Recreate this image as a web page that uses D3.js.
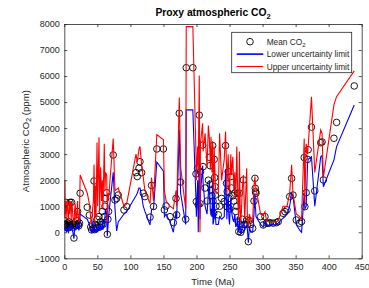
<!DOCTYPE html>
<html>
<head>
<meta charset="utf-8">
<script src="https://cdn.jsdelivr.net/npm/d3@7"></script>
<style>
  body { margin: 0; background: #fff; }
  svg { font-family: "Liberation Sans", Arial, sans-serif; }
</style>
</head>
<body>
<svg width="369" height="288"></svg>
<script>
"use strict";

/* proxy rows, sorted by age (Ma) */
var age = [0.3, 0.8, 1.3, 2, 2.5, 3.5, 4.5, 5.5, 6.5, 7.2, 8, 8.6, 9.5, 10.5, 11, 12, 13, 14.6, 15.5, 16.5,
  17.5, 18.5, 19.5, 20, 21, 22, 23, 24, 34.8, 37.9, 40, 41.4, 42.5, 44, 45, 46, 47, 48, 49.5, 50.5,
  52.5, 53.5, 55, 56.5, 57.5, 58.5, 60.5, 61.5, 62.5, 64.2, 65.1, 66, 67, 74, 76.7, 79.2, 81.6, 90.3, 94.4, 108.5,
  110.4, 113, 114.5, 117, 119.5, 122, 129.7, 132, 135, 140, 150, 151.5, 154, 160, 165, 169, 170, 174, 176, 183.7,
  184.5, 194.5, 199.3, 199.8, 201.8, 202.7, 204.2, 205.3, 206, 209.3, 210, 213, 216, 218, 219.5, 220.5, 221, 222, 223.5, 224.5,
  225, 226, 226.8, 227.5, 228, 228.5, 229.5, 233, 235, 238, 242, 244, 245.5, 246, 246.5, 248, 249, 250, 252, 253,
  255, 256.5, 258, 259.5, 261, 262, 263, 264, 265, 266, 267, 268, 269.5, 271, 273, 276, 277, 278.5, 280, 282,
  285, 287, 288.5, 289, 289.5, 290, 297, 301, 303.6, 306, 308.7, 311, 316, 321, 323.7, 331, 334, 337, 341, 344,
  346, 351, 356, 359, 363, 364, 366, 368, 369, 374, 379, 388, 390, 392, 408, 412, 438.7];

var meanCO2 = [450, 300, 250, 1150, 300, 200, 350, 250, 180, 400, 300, 1150, 250, 350, 1150, 300, 200, -220, 250, 350,
  250, 300, 450, 800, 300, 250, 350, 1500, 960, 660, 200, 90, 300, 150, 1970, 100, 300, 150, 500, 200,
  600, 200, 400, 300, 800, 300, 600, 1000, 1300, 1520, -80, 500, 800, 2970, 1240, 1300, 1430, 855, 985, 2290,
  2140, 2460, 2710, 2290, 1500, 1370, 580, 1800, 990, 3200, 3200, 860, 1010, 600, 370, 1300, 670, 4570, 1930, 500,
  6320, 6320, 2240, 1180, 2460, 1050, 4500, 1100, 2330, 3350, 2520, 1700, 1200, 2000, 2880, 2560, 1840, 1620, 1400, 3330,
  1200, 730, 2800, 2100, 1750, 1430, 1000, 670, 1000, 1300, 1180, 3330, 1880, 985, 1560, 2330, 1300, 900, 2140, 1700,
  1400, 1200, 1500, 800, 1000, 1500, 400, 25, 1500, 300, 0, 100, 500, 2010, 300, 470, 300, -360, 450, 300,
  150, 1200, 2070, 1690, 1560, 1500, 600, 280, 600, 350, 345, 370, 350, 370, 410, 730, 790, 860, 1370, 2070,
  1430, 470, 350, 410, 2870, 985, 1520, 2800, 3170, 4040, 1590, 3440, 3470, 2010, 3610, 4220, 5620];

var lowerCO2 = [300, 100, 50, 200, 100, 0, 150, 50, 0, 200, 100, 300, 50, 150, 300, 100, 0, -250, 100, 200,
  100, 150, 250, 300, 150, 100, 200, 700, 500, 300, 50, 0, 100, 0, 500, 0, 100, 0, 200, 0,
  300, 50, 200, 100, 500, 100, 300, 600, 900, 700, -150, 200, 600, 2300, 900, 50, 400, 700, 800, 1400,
  1500, 1700, 1700, 1400, 1000, 800, 280, 860, 900, 2700, 2350, 600, 700, 400, 0, 800, 500, 3950, 1500, 300,
  4700, 4700, 1200, 600, 2000, 0, 3000, 500, 1500, 2550, 1900, 1000, 700, 1500, 2000, 1200, 800, 900, 600, 2000,
  300, 400, 1500, 900, 500, 700, 300, 300, 600, 500, 600, 2400, 1000, 500, 900, 1500, 600, 300, 1300, 800,
  500, 400, 700, 200, 300, 600, 100, 0, 500, 100, -50, 0, 200, 400, 100, 300, 100, -400, 200, 0,
  0, 700, 1500, 1000, 900, 600, 300, 200, 400, 250, 250, 300, 280, 300, 350, 540, 600, 700, 1000, 1500,
  1400, 300, 90, 0, 1500, 900, 1000, 2600, 2800, 2900, 1000, 2900, 2950, 1750, 2780, 3290, 4890];

var upperCO2 = [600, 2000, 700, 1200, 500, 900, 1200, 600, 400, 1200, 700, 1200, 1150, 500, 1200, 1000, 600, 300, 800, 1100,
  500, 600, 900, 1200, 500, 400, 700, 2200, 1500, 1100, 500, 300, 800, 1200, 2600, 400, 1800, 600, 3450, 1000,
  3650, 800, 2500, 1200, 2000, 900, 3400, 1600, 2300, 2200, 400, 1500, 1300, 3600, 1600, 1650, 1700, 1000, 1100, 3000,
  2700, 3200, 3300, 2600, 2100, 1600, 1100, 2100, 1200, 3750, 3550, 1600, 1200, 1000, 900, 1600, 1000, 5180, 2500, 900,
  7900, 7900, 3000, 2000, 3300, 2400, 6020, 0, 3400, 4190, 3100, 3800, 2500, 4100, 3600, 3000, 2400, 3670, 2300, 3500,
  2000, 1600, 3290, 2600, 2300, 1800, 1500, 1500, 3800, 2000, 2800, 3870, 2500, 1500, 2200, 3000, 2000, 1500, 3000, 2200,
  2900, 1600, 2300, 1300, 3290, 2000, 900, 500, 3100, 1000, 400, 800, 1700, 2200, 500, 2460, 600, 200, 700, 500,
  400, 1800, 2140, 1900, 1800, 1700, 700, 650, 790, 450, 400, 420, 400, 400, 450, 1000, 1000, 1000, 1500, 2590,
  1500, 700, 600, 500, 3600, 1100, 3400, 3000, 3300, 5200, 2300, 3930, 3800, 2100, 4900, 5210, 6200];

var xTicks = [0, 50, 100, 150, 200, 250, 300, 350, 400, 450];
var yTicks = [-1000, 0, 1000, 2000, 3000, 4000, 5000, 6000, 7000, 8000];

var svg = d3.select("svg"),
  margin = {top: 24, right: 7.3, bottom: 29.7, left: 64.3},
  width = +svg.attr("width") - margin.left - margin.right,
  height = +svg.attr("height") - margin.top - margin.bottom,
  g = svg.append("g").attr("transform", "translate(" + margin.left + "," + margin.top + ")");

var axisColor = "#262626";

var x = d3.scaleLinear().domain([0, 450]).range([0, width]);
var y = d3.scaleLinear().domain([-1000, 8000]).range([height, 0]);

var rows = age.map(function(a, i) {
  return {age: a, mean: meanCO2[i], lower: lowerCO2[i], upper: upperCO2[i]};
});

g.append("defs").append("clipPath").attr("id", "clip")
  .append("rect").attr("width", width).attr("height", height);

var plot = g.append("g").attr("clip-path", "url(#clip)");

// mean first, then the two limit lines on top (same order as legend)
plot.append("g")
  .selectAll("circle")
  .data(rows)
  .enter().append("circle")
    .attr("cx", function(d) { return x(d.age); })
    .attr("cy", function(d) { return y(d.mean); })
    .attr("r", 3.3)
    .attr("fill", "none")
    .attr("stroke", "#000")
    .attr("stroke-width", 0.9);

plot.append("path")
  .datum(rows)
  .attr("fill", "none")
  .attr("stroke", "#0000ff")
  .attr("stroke-width", 1.1)
  .attr("d", d3.line().x(function(d) { return x(d.age); }).y(function(d) { return y(d.lower); }));

plot.append("path")
  .datum(rows)
  .attr("fill", "none")
  .attr("stroke", "#ff0000")
  .attr("stroke-width", 1.1)
  .attr("d", d3.line().x(function(d) { return x(d.age); }).y(function(d) { return y(d.upper); }));

/* box + inward ticks on all four sides */
var tl = 3;
g.append("g")
  .attr("transform", "translate(0," + height + ")")
  .call(d3.axisBottom(x).tickValues(xTicks).tickSizeInner(-tl).tickSizeOuter(0).tickPadding(5).tickFormat(d3.format("d")));
g.append("g")
  .call(d3.axisTop(x).tickValues(xTicks).tickSizeInner(-tl).tickSizeOuter(0).tickFormat(""));
g.append("g")
  .call(d3.axisLeft(y).tickValues(yTicks).tickSizeInner(-tl).tickSizeOuter(0).tickPadding(4.5).tickFormat(d3.format("d")));
g.append("g")
  .attr("transform", "translate(" + width + ",0)")
  .call(d3.axisRight(y).tickValues(yTicks).tickSizeInner(-tl).tickSizeOuter(0).tickFormat(""));

g.selectAll(".domain").attr("stroke", axisColor).attr("stroke-width", 0.8);
g.selectAll(".tick line").attr("stroke", axisColor).attr("stroke-width", 0.8);
g.selectAll(".tick text")
  .attr("fill", axisColor)
  .style("font-size", "9px")
  .style("font-family", "Liberation Sans, Arial, sans-serif");

/* labels */
var title = svg.append("text")
  .attr("x", margin.left + width / 2)
  .attr("y", 16)
  .attr("text-anchor", "middle")
  .attr("font-weight", "bold")
  .attr("font-size", 10.3)
  .attr("fill", "#000");
title.append("tspan").text("Proxy atmospheric CO");
title.append("tspan").attr("font-size", 7.5).attr("dy", 3).text("2");

svg.append("text")
  .attr("x", margin.left + width / 2)
  .attr("y", 285)
  .attr("text-anchor", "middle")
  .attr("font-size", 9.6)
  .attr("fill", axisColor)
  .text("Time (Ma)");

var yl = svg.append("text")
  .attr("transform", "translate(28.5," + (margin.top + height / 2) + ") rotate(-90)")
  .attr("text-anchor", "middle")
  .attr("font-size", 9.6)
  .attr("fill", axisColor);
yl.append("tspan").text("Atmospheric CO");
yl.append("tspan").attr("font-size", 7).attr("dy", 2.8).text("2");
yl.append("tspan").attr("dy", -2.8).text(" (ppm)");

/* legend */
var legend = svg.append("g").attr("transform", "translate(231.7,32.3)");
legend.append("rect")
  .attr("width", 120)
  .attr("height", 40.4)
  .attr("fill", "#fff")
  .attr("stroke", axisColor)
  .attr("stroke-width", 0.8);

var entries = ["mean", "lower", "upper"];
var item = legend.selectAll("g.item")
  .data(entries)
  .enter().append("g")
    .attr("class", "item")
    .attr("transform", function(d, i) { return "translate(0," + (9.4 + i * 12.4) + ")"; });

item.each(function(d) {
  var s = d3.select(this);
  if (d == "mean") {
    s.append("circle").attr("cx", 18.3).attr("cy", 0).attr("r", 3.3)
      .attr("fill", "none").attr("stroke", "#000").attr("stroke-width", 0.9);
  } else {
    s.append("line").attr("x1", 5).attr("x2", 31.6).attr("y1", 0).attr("y2", 0)
      .attr("stroke", d == "lower" ? "#0000ff" : "#ff0000")
      .attr("stroke-width", d == "lower" ? 1.6 : 1.1);
  }
  var t = s.append("text").attr("x", 35).attr("y", 3)
    .attr("font-size", 8.3).attr("fill", axisColor);
  if (d == "mean") {
    t.append("tspan").text("Mean CO");
    t.append("tspan").attr("font-size", 6).attr("dy", 2.3).text("2");
  } else {
    t.text(d == "lower" ? "Lower uncertainty limit" : "Upper uncertainty limit");
  }
});
</script>
</body>
</html>
